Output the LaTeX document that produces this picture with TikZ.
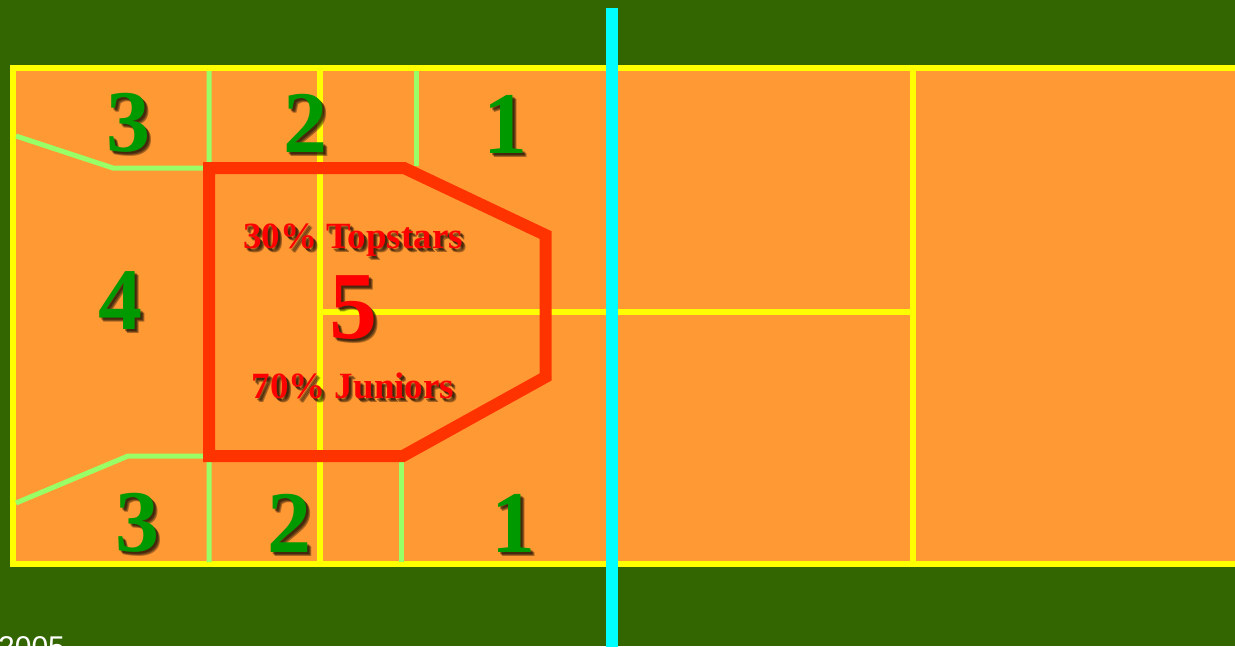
\documentclass[tikz,border=0pt]{standalone}
\usepackage{fontspec}
\setmainfont{Liberation Serif}
\newfontfamily\footfont{Liberation Sans}
\usepackage{xcolor}
\usetikzlibrary{positioning,calc}
\definecolor{pitch}{HTML}{336600}
\definecolor{court}{HTML}{FF9933}
\definecolor{lineyel}{HTML}{FFFF00}
\definecolor{netcyan}{HTML}{00FFFF}
\definecolor{zonered}{HTML}{FF3300}
\definecolor{zoneline}{HTML}{99FF66}
\definecolor{zonegreen}{HTML}{009900}
\tikzset{
  courtline/.style={draw=lineyel,line width=6pt},
  zoneedge/.style ={draw=zoneline,line width=5pt},
  mainzone/.style ={draw=zonered,line width=12pt,line join=miter},
  zonenum/.style  ={inner sep=0pt,text=zonegreen,font=\bfseries\fontsize{88}{88}\selectfont},
  mainnum/.style  ={inner sep=0pt,text=red,font=\bfseries\fontsize{96}{96}\selectfont},
  share/.style    ={inner sep=0pt,anchor=base,text=red,font=\bfseries\fontsize{37}{37}\selectfont},
  shade/.style    ={text=black,text opacity=0.35},
}
% text with a soft dropped shadow
\newcommand\shadowed[4]{%
  \foreach \off in {2,3,4}
    \node[#2,shade,xshift=\off pt,yshift=-\off pt] at (#3) {#4};
  \node[#2] (#1) at (#3) {#4};}
\begin{document}
\begin{tikzpicture}[x=1pt,y=-1pt]
  \useasboundingbox (0,0) rectangle (1235,646);
  \clip (0,0) rectangle (1235,646);
  \fill[pitch] (0,0) rectangle (1235,646);
  % court
  \fill[court] (13,68) rectangle (1240,564);
  \draw[courtline] (1240,68) -- (13,68) -- (13,564) -- (1240,564);
  \draw[courtline] (320,68) -- (320,564);
  \draw[courtline] (913,68) -- (913,564);
  \draw[courtline] (320,312) -- (913,312);
  % zone borders
  \draw[zoneedge] (16,136) -- (113,168) -- (209,168) -- (209,71);
  \draw[zoneedge] (416,71) -- (416,166);
  \draw[zoneedge] (16,503) -- (128,456) -- (209,456) -- (209,562);
  \draw[zoneedge] (401,456) -- (401,562);
  \draw[mainzone] (209,168) -- (404,168) -- (545.5,235) -- (545.5,377)
    -- (403,456) -- (209,456) -- cycle;
  % net
  \draw[netcyan,line width=12pt] (612,8) -- (612,650);
  % zone numbers
  \shadowed{t3}{zonenum}{128,123}{3}
  \shadowed{t2}{zonenum}{305,123}{2}
  \shadowed{t1}{zonenum}{505,124}{1}
  \shadowed{m4}{zonenum}{120,301}{4}
  \shadowed{b3}{zonenum}{137,523}{3}
  \shadowed{b2}{zonenum}{289,523}{2}
  \shadowed{b1}{zonenum}{513,523}{1}
  \shadowed{z5}{mainnum}{353,308}{5}
  \shadowed{top}{share}{353,248}{30\% Topstars}
  \shadowed{jun}{share}{353,398}{70\% Juniors}
  \node[anchor=base west,inner sep=0pt,text=white,font=\footfont\fontsize{30}{30}\selectfont]
    (year) at (-2,657) {2005};
\end{tikzpicture}
\end{document}
